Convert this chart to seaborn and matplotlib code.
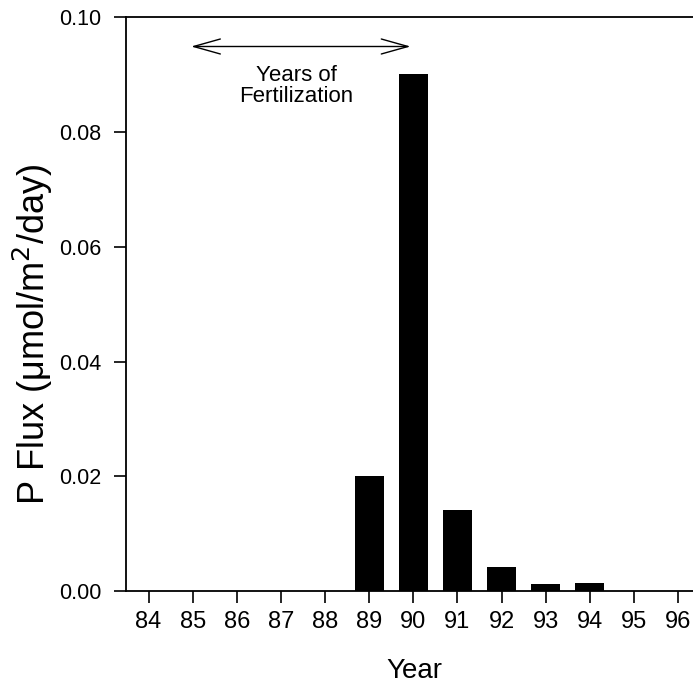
import matplotlib
matplotlib.use("Agg")
import matplotlib.pyplot as plt
import seaborn as sns
import pandas as pd

years = ["84", "85", "86", "87", "88", "89", "90", "91", "92", "93", "94", "95", "96"]
flux = [0, 0, 0, 0, 0, 0.0201, 0.0901, 0.0141, 0.0042, 0.0013, 0.0014, 0, 0]
yticks = [0.00, 0.02, 0.04, 0.06, 0.08, 0.10]
ytick_labels = ["0.00", "0.02", "0.04", "0.06", "0.08", "0.10"]

sns.set_theme(style="white")
plt.rcParams['font.family'] = ['Liberation Sans', 'DejaVu Sans']

df = pd.DataFrame({"Year": years, "Flux": flux})

fig = plt.figure(figsize=(6.93, 6.89), dpi=100)
ax = fig.add_axes([0.182, 0.142, 0.818, 0.833])
sns.barplot(data=df, x="Year", y="Flux", order=years, color="black",
            width=0.66, linewidth=0, saturation=1, ax=ax)

ax.set_xlim(-0.51, 12.34)
ax.set_ylim(0, 0.10)
ax.set_yticks(yticks)
ax.set_yticklabels(ytick_labels)
ax.tick_params(axis="both", direction="out", length=8.5, width=1.2, color="black",
               labelcolor="black", bottom=True, left=True)
ax.tick_params(axis="y", labelsize=15.5, pad=9.4)
ax.tick_params(axis="x", labelsize=17, pad=5.8)
for s in ["left", "top", "bottom"]:
    ax.spines[s].set_visible(True)
    ax.spines[s].set_color("black")
    ax.spines[s].set_linewidth(1.3)
ax.spines["right"].set_visible(False)

ax.set_xlabel("Year", fontsize=20, color="black")
ax.xaxis.set_label_coords(0.509, -0.117)
ax.set_ylabel("P Flux (\u03bcmol/m$^{2}$/day)", fontsize=26, color="black")
ax.yaxis.set_label_coords(-0.126, 0.448)

ax.annotate("", xy=(0.9, 0.0949), xytext=(6.0, 0.0949),
            arrowprops=dict(arrowstyle="<->,head_length=1.6,head_width=0.45",
                            color="black", lw=1.0))
ax.text(3.35, 0.088, "Years of\nFertilization", ha="center", va="center",
        fontsize=16, color="black", linespacing=0.95)

fig.savefig("out.png", dpi=100)
